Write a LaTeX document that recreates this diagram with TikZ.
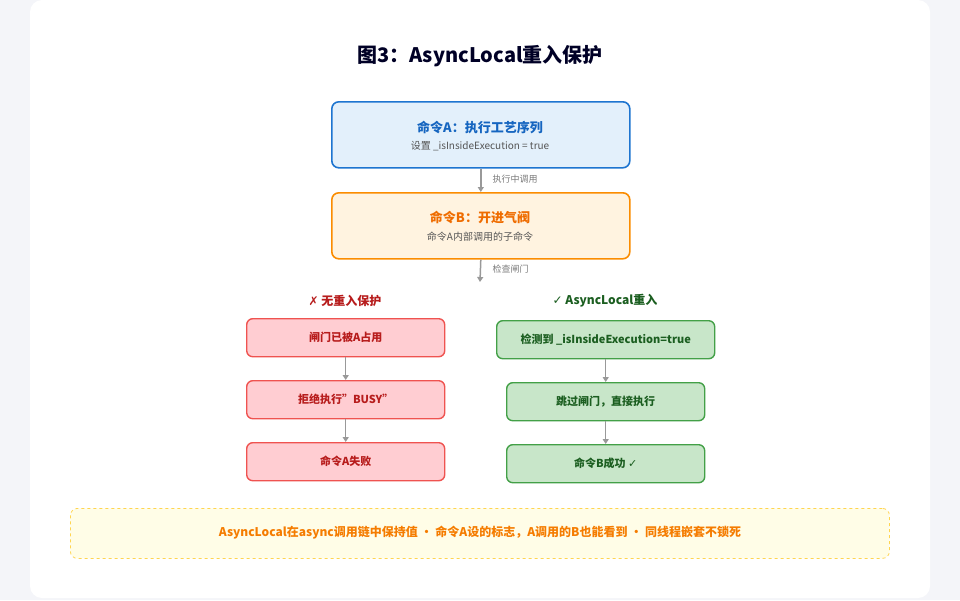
\documentclass[tikz,border=0pt]{standalone}
\usepackage{fontspec}
\setmainfont{Noto Sans CJK SC}
\newfontfamily\symf{DejaVu Sans}
\usetikzlibrary{arrows.meta}
\definecolor{bgc}{HTML}{F4F5F9}
\definecolor{ablue}{HTML}{1E75D0}\definecolor{afill}{HTML}{E3F0FB}\definecolor{atxt}{HTML}{1565C0}
\definecolor{bor}{HTML}{FB8C00}\definecolor{bfill}{HTML}{FFF3E0}\definecolor{btxt}{HTML}{EF6C00}
\definecolor{rstr}{HTML}{EF5350}\definecolor{rfill}{HTML}{FFCDD2}\definecolor{rtxt}{HTML}{B71C1C}
\definecolor{gstr}{HTML}{43A047}\definecolor{gfill}{HTML}{C8E6C9}\definecolor{gtxt}{HTML}{1B5E20}
\definecolor{ystr}{HTML}{FFD54F}\definecolor{yfill}{HTML}{FFFDE7}\definecolor{ytxt}{HTML}{F57C00}
\definecolor{arr}{HTML}{999999}\definecolor{sub}{HTML}{555555}
\begin{document}
\begin{tikzpicture}[x=1pt,y=-1pt,
 box/.style={draw,rounded corners=7pt,line width=1.6pt,minimum height=#1,anchor=north west,inner sep=0pt},
 sm/.style={rounded corners=6pt,line width=1.4pt,draw,anchor=north west,minimum height=38pt,inner sep=0pt,font=\bfseries\fontsize{11}{13}\selectfont},
 red/.style={sm,fill=rfill,draw=rstr,text=rtxt,minimum width=198pt},
 grn/.style={sm,fill=gfill,draw=gstr,text=gtxt},
 ar/.style={draw=arr,line width=1.5pt,-{Triangle[length=5pt,width=6pt]}},
 lbl/.style={text=arr!80!black,font=\fontsize{9}{11}\selectfont,anchor=west}]
\fill[bgc] (0,0) rectangle (960,600);
\fill[white,rounded corners=12pt] (30,0) rectangle (930,598);
\node[font=\bfseries\fontsize{20}{24}\selectfont,text=black!85!blue] (title) at (480,56) {图3：AsyncLocal重入保护};
\node[box=66pt,minimum width=298pt,fill=afill,draw=ablue] (A) at (331,101) {};
\node[text=atxt,font=\bfseries\fontsize{13}{15}\selectfont] (At) at (480,127) {命令A：执行工艺序列};
\node[text=sub,font=\fontsize{10}{12}\selectfont] (As) at (480,146) {设置 \_isInsideExecution = true};
\node[box=66pt,minimum width=298pt,fill=bfill,draw=bor] (B) at (331,192) {};
\node[text=btxt,font=\bfseries\fontsize{13}{15}\selectfont] (Bt) at (480,217) {命令B：开进气阀};
\node[text=sub,font=\fontsize{10}{12}\selectfont] (Bs) at (480,237) {命令A内部调用的子命令};
\coordinate (g) at (480,282);
\draw[ar] (A.south) -- (B.north);
\draw[ar] (B.south) -- (g);
\node[lbl] (l1) at (489,179) {执行中调用};
\node[lbl] (l2) at (489,269) {检查闸门};
\node[text=rtxt,font=\bfseries\fontsize{12}{14}\selectfont] (lh) at (345,301) {{\symf\mdseries ✗} 无重入保护};
\node[text=gtxt,font=\bfseries\fontsize{12}{14}\selectfont] (rh) at (605,301) {{\symf\mdseries ✓} AsyncLocal重入};
\node[red] (r1) at (246,318) {闸门已被A占用};
\node[red] (r2) at (246,380) {拒绝执行"BUSY"};
\node[red] (r3) at (246,442) {命令A失败};
\node[grn,minimum width=218pt] (g1) at (496,320) {检测到 \_isInsideExecution=true};
\node[grn,minimum width=198pt] (g2) at (506,382) {跳过闸门，直接执行};
\node[grn,minimum width=198pt] (g3) at (506,444) {命令B成功 {\symf\mdseries ✓}};
\draw[ar] (r1) -- (r2); \draw[ar] (r2) -- (r3);
\draw[ar] (g1) -- (g2); \draw[ar] (g2) -- (g3);
\node[draw=ystr,fill=yfill,dashed,rounded corners=7pt,line width=0.8pt,anchor=north west,minimum width=819pt,minimum height=50pt,inner sep=0pt] (note) at (70,508) {};
\node[text=ytxt,font=\bfseries\fontsize{12}{14}\selectfont] (nt) at (480,533) {AsyncLocal在async调用链中保持值 • 命令A设的标志，A调用的B也能看到 • 同线程嵌套不锁死};
\end{tikzpicture}
\end{document}
